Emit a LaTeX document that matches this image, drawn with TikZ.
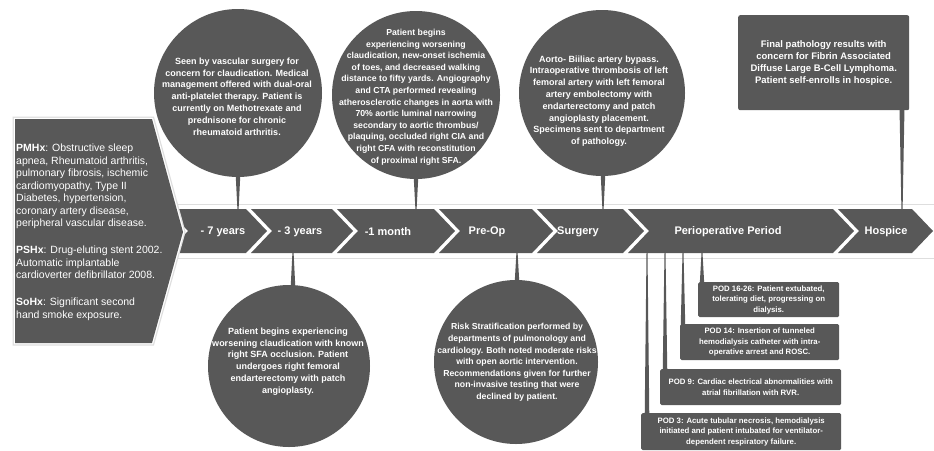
\documentclass[tikz,border=0pt]{standalone}
\usepackage{fontspec}
\setmainfont{Liberation Sans}
\usetikzlibrary{calc}
\definecolor{dk}{RGB}{88,88,88}
\definecolor{halo}{RGB}{222,222,222}
\newcommand\mychev[2]{\fill[dk] (#1,209) -- (#2,209) -- ({#2+21},231) -- (#2,253) -- (#1,253) -- ({#1+21},231) -- cycle;}
\newcommand\mystem[4]{\fill[dk] ([xshift=-#3pt]#1) -- ([xshift=#3pt]#1) -- ([xshift=#4pt]#2) -- ([xshift=-#4pt]#2) -- cycle;}
\newcommand\hxlabel[1]{{\bfseries #1}}
\begin{document}
\begin{tikzpicture}[x=1pt,y=-1pt,
 circ/.style={circle, fill=dk, inner sep=0pt, minimum size=#1},
 ctext/.style={text=white, align=center, inner sep=0pt, font=\bfseries\fontsize{9}{11.8}\selectfont},
 chlabel/.style={text=white, inner sep=0pt, font=\bfseries\fontsize{11}{13}\selectfont},
 podbox/.style={fill=dk, rounded corners=1.5pt, text=white, align=center, inner sep=0pt, anchor=north west, font=\bfseries\fontsize{7.8}{10.4}\selectfont},
 hbox/.style={fill=dk, rounded corners=2pt, text=white, align=center, inner sep=0pt, anchor=north west, font=\bfseries\fontsize{9.5}{12}\selectfont},
 ptext/.style={text=white, align=left, inner sep=0pt, anchor=west, font=\fontsize{10.5}{12.5}\selectfont},
]
\useasboundingbox[fill=white] (0,0) rectangle (934,450);

% timeline band
\draw[halo, line width=1pt] (176,204) rectangle (945,258);

% chevrons
\mychev{167}{246}
\mychev{251}{332}
\mychev{337}{434}
\mychev{439}{532}
\mychev{537}{623}
\mychev{628}{833}
\mychev{838}{912}

% history pentagon
\draw[halo, line width=5pt] (15,119) -- (152,119) -- (183,232) -- (152,343) -- (15,343) -- cycle;
\draw[white, line width=2.5pt] (15,119) -- (152,119) -- (183,232) -- (152,343) -- (15,343) -- cycle;
\fill[dk] (15,119) -- (152,119) -- (183,232) -- (152,343) -- (15,343) -- cycle;

% stem anchor points on the timeline
\coordinate (sA) at (238,209);
\coordinate (sB) at (416,209);
\coordinate (sC) at (603,209);
\coordinate (sH) at (902,209);
\coordinate (sD) at (293,253);
\coordinate (sE) at (517,253);
\coordinate (q1) at (647,253);
\coordinate (q2) at (665,253);
\coordinate (q3) at (683,253);
\coordinate (q4) at (702,253);

% circles and boxes
\node[circ=168pt] (cA) at (238,93) {};
\node[circ=168pt] (cB) at (416,95) {};
\node[circ=166pt] (cC) at (602,93) {};
\node[circ=162pt] (cD) at (289,366) {};
\node[circ=164pt] (cE) at (516,362) {};

\node[hbox, minimum width=171pt, minimum height=95pt] (hB) at (738,15)
 {Final pathology results with\\concern for Fibrin Associated\\Diffuse Large B-Cell Lymphoma.\\Patient self-enrolls in hospice.};

\node[podbox, minimum width=141pt, minimum height=35pt] (p1) at (698,282)
 {POD 16-26: Patient extubated,\\tolerating diet, progressing on\\dialysis.};
\node[podbox, minimum width=159pt, minimum height=36pt] (p2) at (680,324)
 {POD 14: Insertion of tunneled\\hemodialysis catheter with intra-\\operative arrest and ROSC.};
\node[podbox, minimum width=181pt, minimum height=36pt] (p3) at (660,369)
 {POD 9: Cardiac electrical abnormalities with\\atrial fibrillation with RVR.};
\node[podbox, minimum width=200pt, minimum height=37pt] (p4) at (641,413)
 {POD 3: Acute tubular necrosis, hemodialysis\\initiated and patient intubated for ventilator-\\dependent respiratory failure.};

% stem ends inside the shapes
\path (sA |- cA.south) ++(0,-6) coordinate (sAt);
\path (sB |- cB.south) ++(0,-6) coordinate (sBt);
\path (sC |- cC.south) ++(0,-6) coordinate (sCt);
\path (sH |- hB.south) ++(0,-3) coordinate (sHt);
\path (sD |- cD.north) ++(0,6) coordinate (sDt);
\path (sE |- cE.north) ++(0,6) coordinate (sEt);
\path (q1 |- p4.north) ++(0,3) coordinate (q1t);
\path (q2 |- p3.north) ++(0,3) coordinate (q2t);
\path (q3 |- p2.north) ++(0,3) coordinate (q3t);
\path (q4 |- p1.north) ++(0,3) coordinate (q4t);

% stems (wide at the bubble, narrow at the timeline)
\mystem{sAt}{sA}{2.5}{0.6}
\mystem{sBt}{sB}{2.5}{0.6}
\mystem{sCt}{sC}{2.5}{0.6}
\mystem{sHt}{sH}{2.5}{0.6}
\mystem{sDt}{sD}{2.5}{0.6}
\mystem{sEt}{sE}{2.5}{0.6}
\mystem{q1t}{q1}{2.3}{0.5}
\mystem{q2t}{q2}{2.3}{0.5}
\mystem{q3t}{q3}{2.3}{0.5}
\mystem{q4t}{q4}{2.3}{0.5}

% circle texts
\node[ctext] (tA) at (237,96.5)
 {Seen by vascular surgery for\\concern for claudication. Medical\\management offered with dual-oral\\anti-platelet therapy. Patient is\\currently on Methotrexate and\\prednisone for chronic\\rheumatoid arthritis.};
\node[ctext, font=\bfseries\fontsize{8.7}{11.6}\selectfont] (tB) at (416,97)
 {Patient begins\\experiencing worsening\\claudication, new-onset ischemia\\of toes, and decreased walking\\distance to fifty yards. Angiography\\and CTA performed revealing\\atherosclerotic changes in aorta with\\70\% aortic luminal narrowing\\secondary to aortic thrombus/\\plaquing, occluded right CIA and\\right CFA with reconstitution\\of proximal right SFA.};
\node[ctext] (tC) at (599,101)
 {Aorto- Biiliac artery bypass.\\Intraoperative thrombosis of left\\femoral artery with left femoral\\artery embolectomy with\\endarterectomy and patch\\angioplasty placement.\\Specimens sent to department\\of pathology.};
\node[ctext] (tD) at (288,361.5)
 {Patient begins experiencing\\worsening claudication with known\\right SFA occlusion. Patient\\undergoes right femoral\\endarterectomy with patch\\angioplasty.};
\node[ctext, font=\bfseries\fontsize{8.7}{11.6}\selectfont] (tE) at (517,362.5)
 {Risk Stratification performed by\\departments of pulmonology and\\cardiology. Both noted moderate risks\\with open aortic intervention.\\Recommendations given for further\\non-invasive testing that were\\declined by patient.};

% history text
\node[ptext] (hx) at (16,232.5)
 {\hxlabel{PMHx}: Obstructive sleep\\apnea, Rheumatoid arthritis,\\pulmonary fibrosis, ischemic\\cardiomyopathy, Type II\\Diabetes, hypertension,\\coronary artery disease,\\peripheral vascular disease.\\[14.5pt]\hxlabel{PSHx}: Drug-eluting stent 2002.\\Automatic implantable\\cardioverter defibrillator 2008.\\[14.5pt]\hxlabel{SoHx}: Significant second\\hand smoke exposure.};

% timeline labels
\node[chlabel] (ch1) at (223,231.5) {- 7 years};
\node[chlabel] (ch2) at (300,231.5) {- 3 years};
\node[chlabel] (ch3) at (388,231.5) {-1 month};
\node[chlabel] (ch4) at (487,231.5) {Pre-Op};
\node[chlabel] (ch5) at (578,231.5) {Surgery};
\node[chlabel] (ch6) at (728,231.5) {Perioperative Period};
\node[chlabel] (ch7) at (886,231.5) {Hospice};
\end{tikzpicture}
\end{document}
